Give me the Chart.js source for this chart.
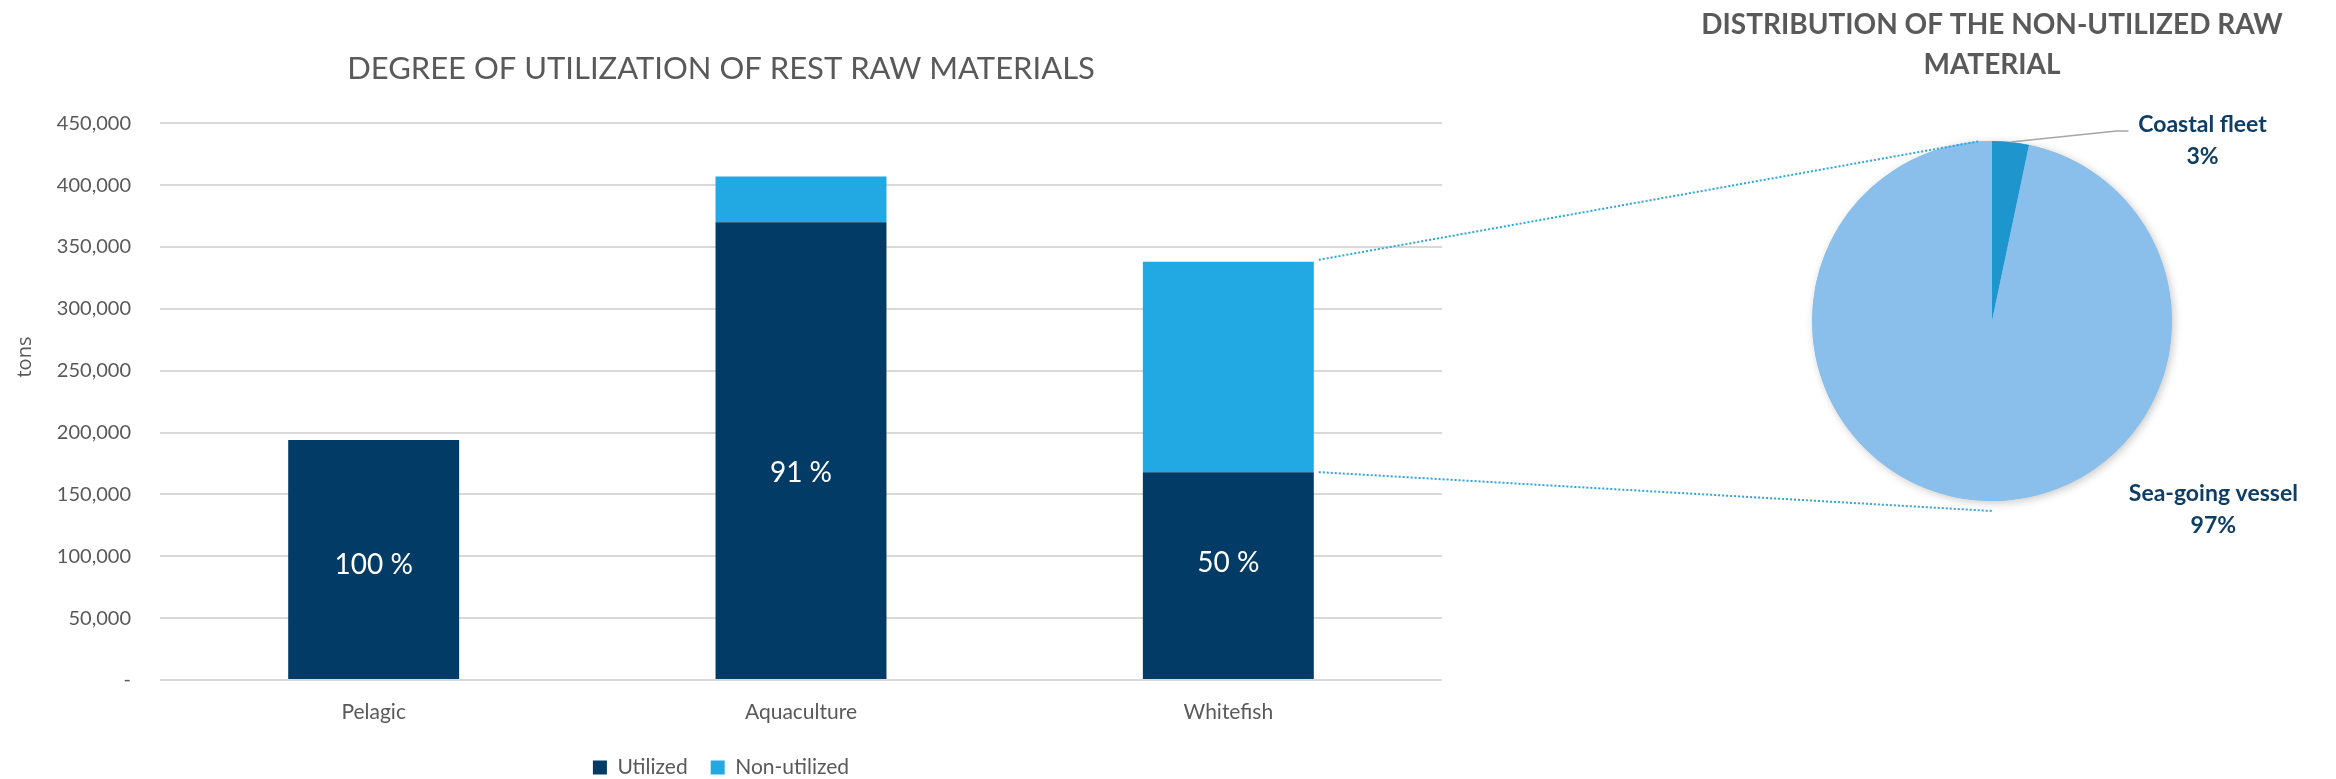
<!DOCTYPE html>
<html>
<head>
<meta charset="utf-8">
<script src="https://cdn.jsdelivr.net/npm/chart.js@4.4.1/dist/chart.umd.min.js"></script>
<style>
  html, body { margin: 0; padding: 0; background: #fff; }
  body { width: 2336px; height: 779px; overflow: hidden; position: relative; }
  #bar { position: absolute; left: 0; top: 0; }
  #pie { position: absolute; left: 1648px; top: 0; }
  #links { position: absolute; left: 0; top: 0; pointer-events: none; }
</style>
</head>
<body>
<canvas id="bar" width="1450" height="788"></canvas>
<canvas id="pie" width="688" height="779"></canvas>
<canvas id="links" width="2336" height="779"></canvas>
<script>
// bar chart data (tons)
var categories = ["Pelagic", "Aquaculture", "Whitefish"];
var utilized = [194000, 370000, 168000];
var nonUtilized = [0, 37000, 170000];
var yMax = 450000;
var yStep = 50000;

// pie: share of the non-utilized raw material (%)
var pieLabels = ["Coastal fleet", "Sea-going vessel"];
var pieShares = [3.3, 96.7];

var GREY = "#595959";
var NAVY = "#023B66";
var LIGHT = "#22A8E2";
var pieColors = ["#1F95CE", "#89BFEA"];

// where the % label sits inside each utilized bar (fraction of bar height from the base)
var labelLift = [0.475, 0.452, 0.56];

// white % labels inside the utilized bars + rotated "tons" title
var percentLabels = {
  id: "percentLabels",
  afterDatasetsDraw: function(chart) {
    var ctx = chart.ctx;
    var bars = chart.getDatasetMeta(0).data;
    ctx.save();
    ctx.fillStyle = "#fff";
    ctx.font = "28px Lato";
    ctx.textAlign = "center";
    ctx.textBaseline = "middle";
    bars.forEach(function(bar, i) {
      var pct = Math.round(utilized[i] / (utilized[i] + nonUtilized[i]) * 100);
      ctx.fillText(pct + " %", bar.x, bar.base - (bar.base - bar.y) * labelLift[i]);
    });
    ctx.fillStyle = GREY;
    ctx.font = "20px 'Open Sans'";
    ctx.translate(25, chart.chartArea.top + 0.42 * chart.chartArea.height);
    ctx.rotate(-Math.PI / 2);
    ctx.fillText("tons", 0, 0);
    ctx.restore();
  }
};

// shadow under the pie + outside labels
var pieDecor = {
  id: "pieDecor",
  beforeDatasetsDraw: function(chart) {
    var arc = chart.getDatasetMeta(0).data[0];
    var ctx = chart.ctx;
    ctx.save();
    ctx.shadowColor = "rgba(0,0,0,0.22)";
    ctx.shadowBlur = 9;
    ctx.shadowOffsetX = 2;
    ctx.shadowOffsetY = 2;
    ctx.fillStyle = pieColors[1];
    ctx.beginPath();
    ctx.arc(arc.x, arc.y, arc.outerRadius, 0, Math.PI * 2);
    ctx.fill();
    ctx.restore();
  },
  afterDatasetsDraw: function(chart) {
    var ctx = chart.ctx;
    var arcs = chart.getDatasetMeta(0).data;
    var cx = arcs[0].x, cy = arcs[0].y, r = arcs[0].outerRadius;
    var anchors = [[1.17, -1.09], [1.23, 0.96]];
    ctx.save();
    // leader line for the small slice
    var a = (arcs[0].startAngle + arcs[0].endAngle) / 2;
    var lx = cx + anchors[0][0] * r, ly = cy + anchors[0][1] * r;
    ctx.strokeStyle = "#A6A6A6";
    ctx.lineWidth = 1.5;
    ctx.beginPath();
    ctx.moveTo(cx + Math.cos(a) * r, cy + Math.sin(a) * r);
    ctx.lineTo(lx - 86, ly + 6);
    ctx.lineTo(lx - 74, ly + 6);
    ctx.stroke();

    ctx.fillStyle = "#0E3D66";
    ctx.font = "bold 23px Lato";
    ctx.textAlign = "center";
    ctx.textBaseline = "middle";
    arcs.forEach(function(arc, i) {
      var x = cx + anchors[i][0] * r, y = cy + anchors[i][1] * r;
      ctx.fillText(pieLabels[i], x, y);
      ctx.fillText(Math.round(pieShares[i]) + "%", x, y + 32);
    });
    ctx.restore();
  }
};

var barChart = new Chart(document.getElementById("bar"), {
  type: "bar",
  data: {
    labels: categories,
    datasets: [
      { label: "Utilized", data: utilized, backgroundColor: NAVY, barPercentage: 0.4, categoryPercentage: 1.0 },
      { label: "Non-utilized", data: nonUtilized, backgroundColor: LIGHT, barPercentage: 0.4, categoryPercentage: 1.0 }
    ]
  },
  options: {
    responsive: false,
    animation: false,
    events: [],
    layout: { padding: { left: 0, right: 8, top: 0, bottom: 0 } },
    scales: {
      x: {
        stacked: true,
        grid: { display: false, drawTicks: false },
        border: { display: false },
        ticks: { color: GREY, font: { family: "Lato", size: 21 }, padding: 20 },
        afterFit: function(s) { s.height = 54; }
      },
      y: {
        stacked: true,
        min: 0,
        max: yMax,
        grid: { color: "#D9D9D9", lineWidth: 2, drawTicks: false },
        border: { display: false },
        ticks: {
          stepSize: yStep,
          padding: 29,
          color: GREY,
          font: { family: "Lato", size: 20 },
          callback: function(v) { return v === 0 ? "-" : v.toLocaleString("en-US"); }
        },
        afterFit: function(s) { s.width = 160; }
      }
    },
    plugins: {
      title: {
        display: true,
        text: "DEGREE OF UTILIZATION OF REST RAW MATERIALS",
        color: GREY,
        font: { family: "Lato", size: 31, weight: "normal" },
        padding: { top: 50, bottom: 36 }
      },
      legend: {
        position: "bottom",
        labels: { boxWidth: 14, boxHeight: 14, padding: 23, color: GREY, font: { family: "Lato", size: 21 } }
      },
      tooltip: { enabled: false }
    }
  },
  plugins: [percentLabels]
});

var pieChart = new Chart(document.getElementById("pie"), {
  type: "pie",
  data: {
    labels: pieLabels,
    datasets: [{ data: pieShares, backgroundColor: pieColors, borderWidth: 0, hoverOffset: 0 }]
  },
  options: {
    responsive: false,
    animation: false,
    events: [],
    layout: { padding: { top: 0, bottom: 278, left: 0, right: 0 } },
    plugins: {
      legend: { display: false },
      tooltip: { enabled: false },
      title: {
        display: true,
        text: ["DISTRIBUTION OF THE NON-UTILIZED RAW", "MATERIAL"],
        color: GREY,
        font: { family: "Lato", size: 28, weight: "bold", lineHeight: 1.43 },
        padding: { top: 5, bottom: 56 }
      }
    }
  },
  plugins: [pieDecor]
});

// dotted connectors from the Whitefish bar to the pie
function drawLinks() {
  var ctx = document.getElementById("links").getContext("2d");
  var top = barChart.getDatasetMeta(1).data[2];
  var split = barChart.getDatasetMeta(0).data[2];
  var arc = pieChart.getDatasetMeta(0).data[0];
  var pieLeft = document.getElementById("pie").offsetLeft;
  var x0 = top.x + top.width / 2 + 5;
  var cx = pieLeft + arc.x;
  ctx.strokeStyle = "#2AA6E0";
  ctx.lineWidth = 2;
  ctx.setLineDash([2, 2]);
  ctx.beginPath();
  ctx.moveTo(x0, top.y - 2);
  ctx.lineTo(cx - 12, arc.y - arc.outerRadius);
  ctx.moveTo(x0, split.y);
  ctx.lineTo(cx, arc.y + arc.outerRadius + 10);
  ctx.stroke();
}
drawLinks();
</script>
</body>
</html>
